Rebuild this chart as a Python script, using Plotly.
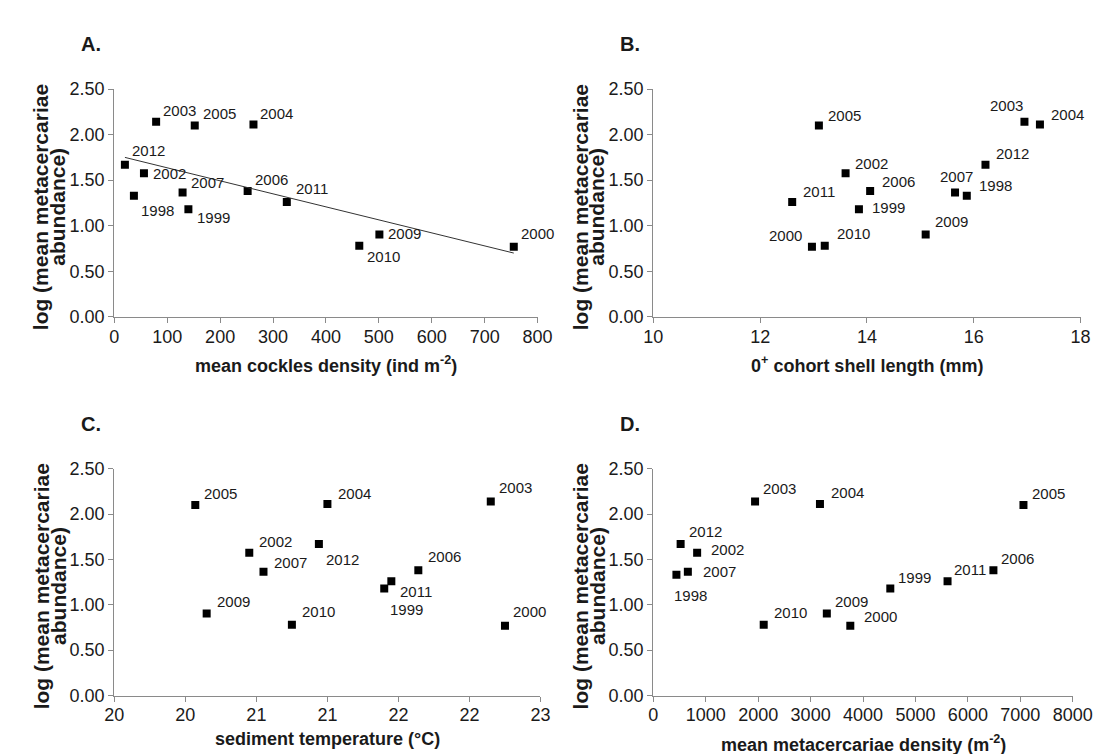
import plotly.graph_objects as go

# ---------------- data ----------------
years = ["1998", "1999", "2000", "2002", "2003", "2004", "2005",
         "2006", "2007", "2009", "2010", "2011", "2012"]
log_abundance = [1.33, 1.18, 0.77, 1.575, 2.14, 2.11, 2.10,
                 1.38, 1.365, 0.905, 0.78, 1.26, 1.67]
cockle_density = [37, 140, 755, 56, 79, 263, 152, 252, 129, 501, 463, 326, 20]
shell_length = [15.87, 13.85, 12.97, 13.60, 16.95, 17.24, 13.10,
                14.06, 15.65, 15.10, 13.21, 12.60, 16.22]
sediment_temp = [None, 21.90, 22.75, 20.95, 22.65, 21.50, 20.57,
                 22.14, 21.05, 20.65, 21.25, 21.95, 21.44]
metacercariae_density = [440, 4520, 3757, 835, 1940, 3178, 7060,
                         6487, 658, 3309, 2105, 5612, 520]
trend_x = [20, 755]
trend_y = [1.75, 0.70]

temp_tickvals = [20, 20.5, 21, 21.5, 22, 22.5, 23]
temp_ticktext = ["20", "20", "21", "21", "22", "22", "23"]

# ---------------- label placement (style) ----------------
place_A = {"1998": ("left", 5, -15), "1999": ("left", 7, -8), "2000": ("left", 5, 13),
           "2002": ("left", 7, 0), "2003": ("left", 5, 11), "2004": ("left", 5, 11),
           "2005": ("left", 6, 12), "2006": ("left", 5, 12), "2007": ("left", 6, 10),
           "2009": ("left", 7, 1), "2010": ("left", 6, -11), "2011": ("left", 7, 14),
           "2012": ("left", 5, 14)}
place_B = {"1998": ("left", 10, 10), "1999": ("left", 11, 2), "2000": ("right", -8, 11),
           "2002": ("left", 7, 10), "2003": ("right", 1, 16), "2004": ("left", 9, 10),
           "2005": ("left", 7, 10), "2006": ("left", 10, 10), "2007": ("center", 1, 16),
           "2009": ("left", 7, 13), "2010": ("left", 10, 12), "2011": ("left", 9, 11),
           "2012": ("left", 9, 11)}
place_C = {"1999": ("left", 4, -21), "2000": ("left", 6, 14), "2002": ("left", 8, 11),
           "2003": ("left", 6, 14), "2004": ("left", 9, 11), "2005": ("left", 7, 12),
           "2006": ("left", 8, 14), "2007": ("left", 9, 9), "2009": ("left", 8, 12),
           "2010": ("left", 8, 13), "2011": ("left", 7, -10), "2012": ("left", 5, -15)}
place_D = {"1998": ("left", -4, -21), "1999": ("left", 6, 11), "2000": ("left", 12, 9),
           "2002": ("left", 12, 3), "2003": ("left", 6, 13), "2004": ("left", 9, 12),
           "2005": ("left", 7, 12), "2006": ("left", 6, 12), "2007": ("left", 13, 0),
           "2009": ("left", 6, 12), "2010": ("left", 8, 12), "2011": ("left", 4, 12),
           "2012": ("left", 6, 13)}

W, H = 1111, 754
FONT = "Liberation Sans, Arial, sans-serif"
AX = "#8a8a8a"
TXT = "#1a1a1a"


def px_x(p):
    return p / W


def px_y(p):
    return 1 - p / H


panels = [
    # name, xdata, xref, yref, x-domain px, y-domain px, range, dtick, placements, x title, title y
    ("A.", cockle_density, "x", "y", (99, 534), (73, 307), [0, 800], 100, place_A,
     "mean cockles density (ind m<sup>-2</sup>)", 356),
    ("B.", shell_length, "x2", "y2", (653, 1092), (73, 307), [10, 18], 2, place_B,
     "0<sup>+</sup> cohort shell length (mm)", 356),
    ("C.", sediment_temp, "x3", "y3", (99, 537), (463, 696), [20, 23], None, place_C,
     "sediment temperature (°C)", 741),
    ("D.", metacercariae_density, "x4", "y4", (653, 1084), (463, 696), [0, 8000], 1000, place_D,
     "mean metacercariae density (m<sup>-2</sup>)", 745),
]

fig = go.Figure()
annotations = []
layout = dict(
    width=W, height=H,
    margin=dict(l=0, r=0, t=0, b=0),
    paper_bgcolor="white", plot_bgcolor="white",
    showlegend=False,
    font=dict(family=FONT, color=TXT),
)

for i, (title, xdata, xr, yr, xd, yd, rng, dtick, place, xtitle, xty) in enumerate(panels):
    suffix = "" if i == 0 else str(i + 1)
    fig.add_trace(go.Scatter(
        x=xdata, y=log_abundance, mode="markers",
        marker=dict(symbol="square", size=8, color="black"),
        xaxis=xr, yaxis=yr, hoverinfo="skip",
    ))
    if i == 0:
        fig.add_trace(go.Scatter(
            x=trend_x, y=trend_y, mode="lines",
            line=dict(color="#333333", width=1),
            xaxis=xr, yaxis=yr, hoverinfo="skip",
        ))
    xa = dict(
        domain=[px_x(xd[0]), px_x(xd[1])], range=rng, anchor=yr,
        showline=True, linecolor=AX, linewidth=1.3, ticks="outside", ticklen=5,
        tickcolor=AX, tickwidth=1.3, showgrid=False, zeroline=False,
        ticklabelstandoff=-2,
        tickfont=dict(size=18, color=TXT, family=FONT),
    )
    if dtick is None:
        xa.update(tickmode="array", tickvals=temp_tickvals, ticktext=temp_ticktext)
    else:
        xa.update(tick0=rng[0], dtick=dtick)
    ya = dict(
        domain=[px_y(yd[1]), px_y(yd[0])], range=[0, 2.5], anchor=xr,
        showline=True, linecolor=AX, linewidth=1.3, ticks="outside", ticklen=5,
        tickcolor=AX, tickwidth=1.3, showgrid=False, zeroline=False,
        tick0=0, dtick=0.5, tickformat=".2f",
        tickfont=dict(size=18, color=TXT, family=FONT),
    )
    layout["xaxis" + suffix] = xa
    layout["yaxis" + suffix] = ya

    # data labels
    for yr_lab, xv, yv in zip(years, xdata, log_abundance):
        if xv is None or yr_lab not in place:
            continue
        anchor, dx, dy = place[yr_lab]
        annotations.append(dict(
            x=xv, y=yv, xref=xr, yref=yr, text=yr_lab, showarrow=False,
            xanchor=anchor, yanchor="middle", xshift=dx, yshift=dy,
            font=dict(size=15, color=TXT, family=FONT),
        ))

    # panel title
    annotations.append(dict(
        x=px_x(xd[0] - 24), y=px_y(yd[0] - 46), xref="paper", yref="paper",
        text="<b>%s</b>" % title, showarrow=False, xanchor="center", yanchor="middle",
        font=dict(size=20, color=TXT, family=FONT),
    ))
    # x-axis title
    annotations.append(dict(
        x=px_x((xd[0] + xd[1]) / 2), y=px_y(xty), xref="paper", yref="paper",
        text="<b>%s</b>" % xtitle, showarrow=False, xanchor="center", yanchor="middle",
        font=dict(size=18, color=TXT, family=FONT),
    ))
    # y-axis title (two lines)
    yc = (yd[0] + yd[1]) / 2 + 4
    for line_txt, lx in (("log (mean metacercariae", xd[0] - 75), ("abundance)", xd[0] - 58)):
        annotations.append(dict(
            x=px_x(lx), y=px_y(yc), xref="paper", yref="paper",
            text="<b>%s</b>" % line_txt, showarrow=False, textangle=-90,
            xanchor="center", yanchor="middle",
            font=dict(size=21, color=TXT, family=FONT),
        ))

layout["annotations"] = annotations
fig.update_layout(**layout)
fig.write_html("out.html")
